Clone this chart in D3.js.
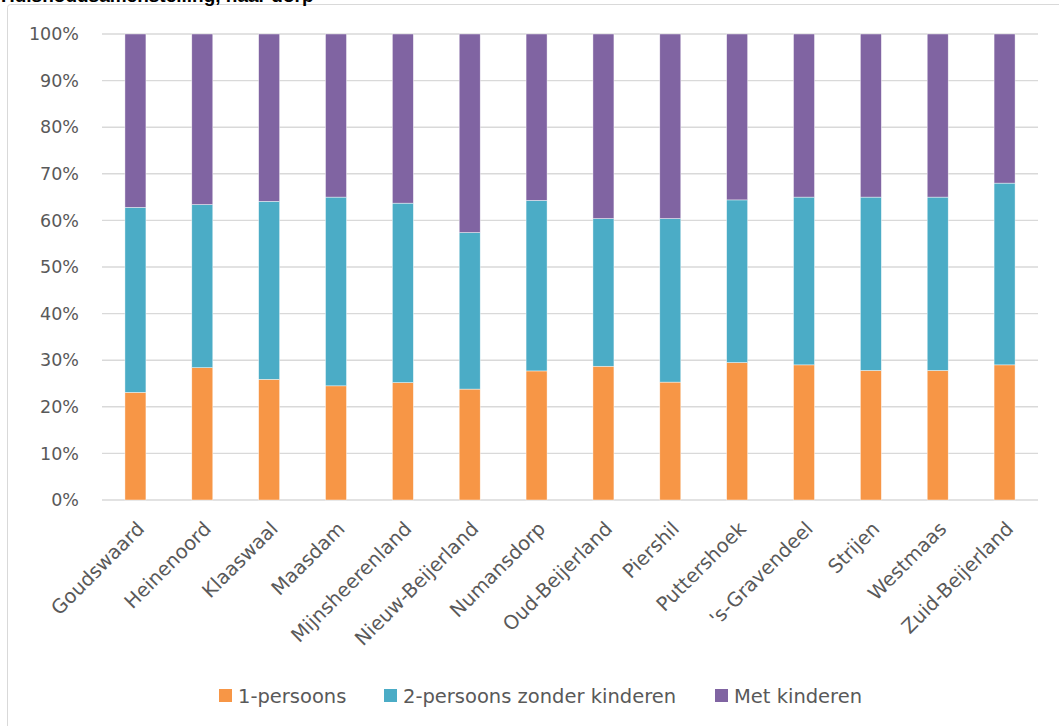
<!DOCTYPE html>
<html>
<head>
<meta charset="utf-8">
<script src="https://cdn.jsdelivr.net/npm/d3@7/dist/d3.min.js"></script>
<style>
  html, body { margin: 0; padding: 0; background: #fff; }
  svg { display: block; }
</style>
</head>
<body>
<script>
const title = "Huishoudsamenstelling, naar dorp";
const categories = ["Goudswaard", "Heinenoord", "Klaaswaal", "Maasdam", "Mijnsheerenland",
  "Nieuw-Beijerland", "Numansdorp", "Oud-Beijerland", "Piershil", "Puttershoek",
  "'s-Gravendeel", "Strijen", "Westmaas", "Zuid-Beijerland"];
const seriesNames = ["1-persoons", "2-persoons zonder kinderen", "Met kinderen"];
const onePersoons = [23.1, 28.4, 25.9, 24.5, 25.2, 23.8, 27.7, 28.7, 25.3, 29.5, 29.0, 27.8, 27.8, 29.0];
const tweePersoons = [39.7, 35.0, 38.2, 40.5, 38.5, 33.6, 36.6, 31.7, 35.1, 34.9, 36.0, 37.2, 37.2, 39.0];
const metKinderen = [37.2, 36.6, 35.9, 35.0, 36.3, 42.6, 35.7, 39.6, 39.6, 35.6, 35.0, 35.0, 35.0, 32.0];
const yTicks = [0, 10, 20, 30, 40, 50, 60, 70, 80, 90, 100];
const colors = ["#F79646", "#4BACC6", "#8064A2"];

const W = 1059, H = 726;
const svg = d3.select("body").append("svg").attr("width", W).attr("height", H);

// chart frame
svg.append("rect").attr("x", 7.5).attr("y", 4.5).attr("width", 1060).attr("height", 740)
  .attr("rx", 3).attr("fill", "#fff").attr("stroke", "#d9d9d9").attr("stroke-width", 1);

// title (clipped at top, as in the reference)
svg.append("text").attr("x", 1).attr("y", 2)
  .attr("font-family", "Liberation Sans, Arial, sans-serif").attr("font-weight", "bold")
  .attr("font-size", 19).attr("fill", "#000").text(title);

const x = d3.scaleBand().domain(categories).range([102, 1038]).paddingInner(0.686).paddingOuter(0.343);
const y = d3.scaleLinear().domain([0, 100]).range([500, 34]);

// gridlines
svg.append("g").selectAll("line").data(yTicks).join("line")
  .attr("x1", 102).attr("x2", 1038)
  .attr("y1", d => y(d)).attr("y2", d => y(d))
  .attr("stroke", "#d9d9d9").attr("stroke-width", 1.4);

// y axis labels
const yAxis = d3.axisLeft(y).tickValues(yTicks).tickFormat(d => d + "%").tickSize(0).tickPadding(0);
const gy = svg.append("g").attr("transform", "translate(79,0)").call(yAxis);
gy.select(".domain").remove();
gy.selectAll("text").attr("font-family", "DejaVu Sans, sans-serif").attr("font-size", 17.5)
  .attr("fill", "#595959");

// stacked data
const rows = categories.map((c, i) => ({ cat: c, s0: onePersoons[i], s1: tweePersoons[i], s2: metKinderen[i] }));
const stack = d3.stack().keys(["s0", "s1", "s2"]);
const stacked = stack(rows);

svg.append("g").selectAll("g").data(stacked).join("g")
  .attr("fill", (d, i) => colors[i])
  .selectAll("rect").data(d => d).join("rect")
  .attr("x", d => x(d.data.cat))
  .attr("width", x.bandwidth())
  .attr("y", d => y(d[1]))
  .attr("height", d => y(d[0]) - y(d[1]))
  .attr("stroke", "#ffffff").attr("stroke-width", 0.6).attr("stroke-opacity", 0.7);

// x labels
svg.append("g").selectAll("text").data(categories).join("text")
  .attr("transform", d => `translate(${x(d) + x.bandwidth() / 2 + 10},530) rotate(-45)`)
  .attr("text-anchor", "end")
  .attr("font-family", "DejaVu Sans, sans-serif").attr("font-size", 19.5)
  .attr("fill", "#595959").text(d => d);

// legend
const legendX = [219, 384, 715];
const lg = svg.append("g").selectAll("g").data(seriesNames).join("g")
  .attr("transform", (d, i) => `translate(${legendX[i]},689)`);
lg.append("rect").attr("width", 13).attr("height", 13).attr("fill", (d, i) => colors[i]);
lg.append("text").attr("x", 19).attr("y", 14)
  .attr("font-family", "DejaVu Sans, sans-serif").attr("font-size", 19.5)
  .attr("fill", "#595959").text(d => d);
</script>
</body>
</html>
